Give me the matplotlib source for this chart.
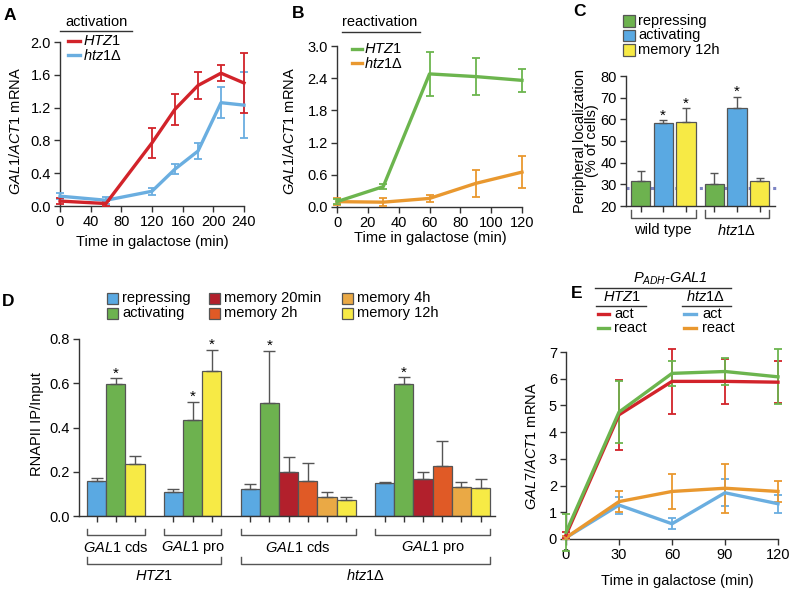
import matplotlib
matplotlib.use("Agg")
import matplotlib.pyplot as plt
import matplotlib.transforms as mtransforms
from matplotlib.lines import Line2D
from matplotlib.patches import Rectangle
import numpy as np

plt.rcParams['font.family'] = ['Liberation Sans', 'DejaVu Sans']
plt.rcParams['mathtext.fontset'] = 'custom'
plt.rcParams['mathtext.rm'] = 'Liberation Sans'
plt.rcParams['mathtext.it'] = 'Liberation Sans:italic'
plt.rcParams['font.size'] = 10.5

W, H = 792, 590

# ---- panel A: activation time course
a_time = [0, 60, 120, 150, 180, 210, 240]
a_htz1 = [0.06, 0.03, 0.77, 1.18, 1.47, 1.62, 1.50]
a_htz1_err = [0.04, 0.03, 0.18, 0.19, 0.17, 0.10, 0.36]
a_del = [0.12, 0.07, 0.18, 0.45, 0.67, 1.26, 1.23]
a_del_err = [0.04, 0.04, 0.04, 0.06, 0.10, 0.19, 0.40]

# ---- panel B: reactivation time course
b_time = [0, 30, 60, 90, 120]
b_htz1 = [0.10, 0.38, 2.48, 2.43, 2.36]
b_htz1_err = [0.05, 0.05, 0.41, 0.34, 0.22]
b_del = [0.10, 0.09, 0.16, 0.44, 0.65]
b_del_err = [0.07, 0.07, 0.06, 0.25, 0.30]

# ---- panel C: peripheral localization
c_conditions = ['repressing', 'activating', 'memory 12h']
c_wt = [31.5, 58.2, 58.8]
c_wt_err = [4.5, 1.3, 6.4]
c_wt_sig = [False, True, True]
c_del = [30.0, 65.3, 31.4]
c_del_err = [5.3, 5.2, 1.6]
c_del_sig = [False, True, False]
c_baseline = 28.5

# ---- panel D: RNAPII ChIP
d_conditions = ['repressing', 'activating', 'memory 20min',
                'memory 2h', 'memory 4h', 'memory 12h']
d_htz1_cds = [0.160, 0.598, 0.234]        # repressing, activating, memory 12h
d_htz1_cds_err = [0.014, 0.025, 0.037]
d_htz1_pro = [0.109, 0.434, 0.657]
d_htz1_pro_err = [0.012, 0.083, 0.095]
d_del_cds = [0.121, 0.510, 0.197, 0.157, 0.088, 0.074]
d_del_cds_err = [0.023, 0.237, 0.068, 0.083, 0.022, 0.012]
d_del_pro = [0.148, 0.596, 0.166, 0.225, 0.133, 0.126]
d_del_pro_err = [0.006, 0.032, 0.031, 0.115, 0.020, 0.043]

# ---- panel E: PADH-GAL1 GAL7 mRNA
e_time = [0, 30, 60, 90, 120]
e_htz1_act = [0.15, 4.65, 5.90, 5.90, 5.87]
e_htz1_act_err = [0.10, 1.30, 1.23, 0.85, 0.78]
e_htz1_react = [0.25, 4.75, 6.20, 6.27, 6.07]
e_htz1_react_err = [0.70, 1.15, 0.48, 0.50, 1.03]
e_del_act = [0.05, 1.27, 0.57, 1.73, 1.32]
e_del_act_err = [0.05, 0.32, 0.20, 0.50, 0.33]
e_del_react = [0.05, 1.40, 1.78, 1.90, 1.78]
e_del_react_err = [0.05, 0.38, 0.65, 0.92, 0.38]

RED = '#d2232a'
LBLUE = '#6aaee0'
GREEN = '#6cb54e'
ORANGE = '#e9982f'
BAR_C = {'repressing': '#5aa9e2', 'activating': '#6db24f',
         'memory 20min': '#b2202c', 'memory 2h': '#e05a26',
         'memory 4h': '#eaa945', 'memory 12h': '#f7ea45'}
C_COLORS = ['#6db24f', '#5aa9e2', '#f7ea45']
EDGE = '#555555'
AXC = '#333333'

fig = plt.figure(figsize=(W / 100, H / 100), dpi=100)


def px_axes(left, top, right, bottom):
    return fig.add_axes([left / W, 1 - bottom / H, (right - left) / W, (bottom - top) / H])


def ftext(x, y, s, **kw):
    kw.setdefault('va', 'center')
    return fig.text(x / W, 1 - y / H, s, **kw)


def fline(xs, ys, **kw):
    kw.setdefault('color', AXC)
    kw.setdefault('lw', 1.0)
    fig.add_artist(Line2D([x / W for x in xs], [1 - y / H for y in ys], **kw))


def fbox(x, y, color, w=12, h=11):
    fig.add_artist(Rectangle((x / W, 1 - (y + h / 2) / H), w / W, h / H,
                             facecolor=color, edgecolor=EDGE, lw=0.9,
                             transform=fig.transFigure))


def style(ax):
    for s in ['top', 'right']:
        ax.spines[s].set_visible(False)
    for s in ['left', 'bottom']:
        ax.spines[s].set_color(AXC)
        ax.spines[s].set_linewidth(1.0)
    ax.tick_params(direction='out', length=4, width=1, color=AXC,
                   labelsize=10.5, pad=2.5)


def trace(ax, x, y, err, color):
    ax.errorbar(x, y, yerr=err, color=color, lw=2.4, elinewidth=1.3,
                capsize=3, capthick=1.3, clip_on=False, zorder=3)


def stars(ax, pos, vals, errs, sig):
    for p, v, e, s in zip(pos, vals, errs, sig):
        if s:
            ax.annotate('*', (p, v + e), xytext=(0, 0.5), textcoords='offset points',
                        ha='center', va='baseline', fontsize=11, annotation_clip=False)


def bracket(ax, x0, x1, ytop, ybot, label, ylab):
    tr = mtransforms.blended_transform_factory(ax.transData, fig.transFigure)
    ax.add_line(Line2D([x0, x0, x1, x1], [1 - ytop / H, 1 - ybot / H, 1 - ybot / H, 1 - ytop / H],
                       transform=tr, color=EDGE, lw=1, clip_on=False))
    ax.text((x0 + x1) / 2, 1 - ylab / H, label, transform=tr, ha='center', va='center')


fmt1 = matplotlib.ticker.FormatStrFormatter('%.1f')

# ================= A
ax = px_axes(60, 42, 244, 206)
style(ax)
trace(ax, a_time, a_del, a_del_err, LBLUE)
trace(ax, a_time, a_htz1, a_htz1_err, RED)
ax.set_xlim(0, 240)
ax.set_ylim(0, 2.0)
ax.set_xticks(np.arange(0, 241, 40))
ax.set_yticks(np.arange(0, 2.01, 0.4))
ax.yaxis.set_major_formatter(fmt1)
ftext(16, 131, r'$\mathit{GAL1/ACT1}$ mRNA', rotation=90, ha='center')
ftext(152, 242, 'Time in galactose (min)', ha='center')
ftext(96, 22, 'activation', ha='center')
fline([60, 132], [31, 31])
fline([68, 80], [41, 41], color=RED, lw=2.4)
ftext(83, 41, r'$\mathit{HTZ1}$')
fline([68, 80], [55, 55], color=LBLUE, lw=2.4)
ftext(83, 55, r'$\mathit{htz1}$Δ')
ftext(10, 15, 'A', ha='center', fontsize=12.5, fontweight='bold')

# ================= B
ax = px_axes(337, 46, 522, 207)
style(ax)
trace(ax, b_time, b_del, b_del_err, ORANGE)
trace(ax, b_time, b_htz1, b_htz1_err, GREEN)
ax.set_xlim(0, 120)
ax.set_ylim(0, 3.0)
ax.set_xticks(np.arange(0, 121, 20))
ax.set_yticks(np.arange(0, 3.01, 0.6))
ax.yaxis.set_major_formatter(fmt1)
ftext(289, 131, r'$\mathit{GAL1/ACT1}$ mRNA', rotation=90, ha='center')
ftext(430, 238, 'Time in galactose (min)', ha='center')
ftext(380, 22, 'reactivation', ha='center')
fline([342, 420], [32, 32])
fline([352, 362], [49, 49], color=GREEN, lw=2.4)
ftext(364, 49, r'$\mathit{HTZ1}$')
fline([352, 362], [63, 63], color=ORANGE, lw=2.4)
ftext(364, 63, r'$\mathit{htz1}$Δ')
ftext(298, 13, 'B', ha='center', fontsize=12.5, fontweight='bold')

# ================= C
ax = px_axes(626, 76, 775, 206)
style(ax)
c_pos_wt = [0, 1, 2]
c_pos_del = [3.25, 4.25, 5.25]
bw = 0.85
ax.axhline(c_baseline, xmax=1.02, color='#7d84c4', ls=(0, (1, 1)), lw=2.2, clip_on=False, zorder=1)
for pos, vals, errs, sig in [(c_pos_wt, c_wt, c_wt_err, c_wt_sig),
                             (c_pos_del, c_del, c_del_err, c_del_sig)]:
    ax.bar(pos, vals, width=bw, color=C_COLORS, edgecolor=EDGE, lw=0.9, zorder=2)
    ax.errorbar(pos, vals, yerr=[np.zeros(3), errs], fmt='none', ecolor=EDGE,
                elinewidth=1, capsize=3, capthick=1, zorder=3)
    stars(ax, pos, vals, errs, sig)
ax.set_xlim(-0.64, 5.93)
ax.set_ylim(20, 80)
ax.set_yticks(np.arange(20, 81, 10))
ax.set_xticks(c_pos_wt + c_pos_del)
ax.tick_params(axis='x', labelbottom=False)
bracket(ax, c_pos_wt[0] - bw / 2, c_pos_wt[-1] + bw / 2, 210, 218, 'wild type', 230)
bracket(ax, c_pos_del[0] - bw / 2, c_pos_del[-1] + bw / 2, 210, 218, r'$\mathit{htz1}$Δ', 230)
ftext(586, 141, 'Peripheral localization\n(% of cells)', rotation=90, ha='center',
      linespacing=0.85)
for i, name in enumerate(c_conditions):
    fbox(623, 21 + 14.5 * i, C_COLORS[i])
    ftext(638, 21 + 14.5 * i, name)
ftext(580, 11, 'C', ha='center', fontsize=12.5, fontweight='bold')

# ================= D
ax = px_axes(79, 339, 495, 516)
style(ax)
g1_cond = ['repressing', 'activating', 'memory 12h']
d_sets = [
    ([0, 1, 2], g1_cond, d_htz1_cds, d_htz1_cds_err, [False, True, False], r'$\mathit{GAL1}$ cds'),
    ([4, 5, 6], g1_cond, d_htz1_pro, d_htz1_pro_err, [False, True, True], r'$\mathit{GAL1}$ pro'),
    (list(range(8, 14)), d_conditions, d_del_cds, d_del_cds_err,
     [False, True, False, False, False, False], r'$\mathit{GAL1}$ cds'),
    (list(range(15, 21)), d_conditions, d_del_pro, d_del_pro_err,
     [False, True, False, False, False, False], r'$\mathit{GAL1}$ pro'),
]
all_pos = []
for pos, cond, vals, errs, sig, lab in d_sets:
    ax.bar(pos, vals, width=1.0, color=[BAR_C[c] for c in cond], edgecolor=EDGE, lw=0.9, zorder=2)
    ax.errorbar(pos, vals, yerr=[np.zeros(len(vals)), errs], fmt='none', ecolor=EDGE,
                elinewidth=1, capsize=4.5, capthick=1, zorder=3)
    stars(ax, pos, vals, errs, sig)
    bracket(ax, pos[0] - 0.5, pos[-1] + 0.5, 529, 535, lab, 548)
    all_pos += pos
bracket(ax, d_sets[0][0][0] - 0.5, d_sets[1][0][-1] + 0.5, 557, 564, r'$\mathit{HTZ1}$', 576)
bracket(ax, d_sets[2][0][0] - 0.5, d_sets[3][0][-1] + 0.5, 557, 564, r'$\mathit{htz1}$Δ', 576)
ax.set_xlim(-0.92, 20.75)
ax.set_ylim(0, 0.8)
ax.set_yticks(np.arange(0, 0.81, 0.2))
ax.yaxis.set_major_formatter(fmt1)
ax.set_xticks(all_pos)
ax.tick_params(axis='x', labelbottom=False)
ftext(37, 424, 'RNAPII IP/Input', rotation=90, ha='center')
leg_x = [107, 107, 209, 209, 342, 342]
leg_y = [298, 313, 298, 313, 298, 313]
for name, lx, ly in zip(d_conditions, leg_x, leg_y):
    fbox(lx, ly, BAR_C[name], w=11, h=11)
    ftext(lx + 15, ly, name)
ftext(8, 302, 'D', ha='center', fontsize=12.5, fontweight='bold')

# ================= E
ax = px_axes(566, 352, 778, 539)
style(ax)
trace(ax, e_time, e_del_act, e_del_act_err, LBLUE)
trace(ax, e_time, e_del_react, e_del_react_err, ORANGE)
trace(ax, e_time, e_htz1_act, e_htz1_act_err, RED)
trace(ax, e_time, e_htz1_react, e_htz1_react_err, GREEN)
ax.set_xlim(0, 120)
ax.set_ylim(0, 7)
ax.set_xticks(np.arange(0, 121, 30))
ax.set_yticks(np.arange(0, 8, 1))
ftext(532, 446, r'$\mathit{GAL7/ACT1}$ mRNA', rotation=90, ha='center')
ftext(677, 581, 'Time in galactose (min)', ha='center')
ftext(670, 279, r'$\mathit{P_{ADH}}$-GAL1', ha='center', style='italic')
fline([595, 731], [288, 288])
ftext(622, 297, r'$\mathit{HTZ1}$', ha='center')
fline([596, 646], [306, 306])
ftext(705, 297, r'$\mathit{htz1}$Δ', ha='center')
fline([682, 731], [306, 306])
fline([598, 609], [314, 314], color=RED, lw=2.4)
ftext(614, 314, 'act')
fline([598, 609], [328, 328], color=GREEN, lw=2.4)
ftext(614, 328, 'react')
fline([684, 696], [314, 314], color=LBLUE, lw=2.4)
ftext(702, 314, 'act')
fline([684, 696], [328, 328], color=ORANGE, lw=2.4)
ftext(702, 328, 'react')
ftext(577, 293, 'E', ha='center', fontsize=12.5, fontweight='bold')

fig.savefig('out.png', dpi=100)
